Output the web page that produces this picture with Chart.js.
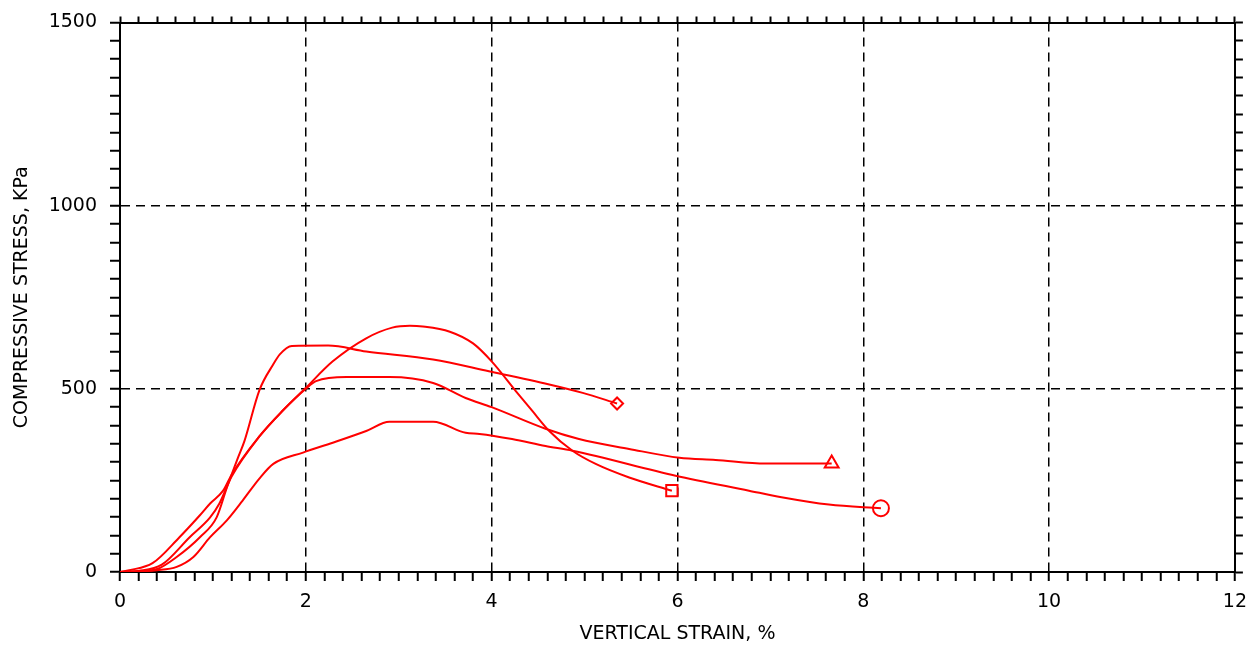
<!DOCTYPE html>
<html>
<head>
<meta charset="utf-8">
<script src="https://cdn.jsdelivr.net/npm/chart.js@4.4.1/dist/chart.umd.min.js"></script>
<style>
  body { margin: 0; background: #fff; }
  #wrap { width: 1259px; height: 645px; }
</style>
</head>
<body>
<div id="wrap"><canvas id="grafico"></canvas></div>
<script>
// ejes
const xTicks = [0, 2, 4, 6, 8, 10, 12];
const yTicks = [0, 500, 1000, 1500];

// curva con meseta ~620 (rombo)
const strainDiamond = [0, 0.2, 0.4, 0.61, 0.86, 1.04, 1.15, 1.27, 1.34, 1.5, 1.65, 1.72, 1.85, 2.24, 2.65, 3.37, 3.97, 4.62, 4.98, 5.35];
const stressDiamond = [0, 2, 8, 41, 95, 149, 230, 312, 358, 496, 567, 594, 617, 618, 602, 580, 548, 512, 489, 460];

// curva pico ~670 (cuadrado)
const strainSquare = [0, 0.1, 0.35, 0.64, 0.86, 0.97, 1.11, 1.2, 1.5, 1.75, 1.99, 2.29, 2.65, 2.93, 3.12, 3.26, 3.55, 3.8, 4.0, 4.26, 4.44, 4.62, 4.87, 5.12, 5.48, 5.94];
const stressSquare = [0, 5, 24, 95, 155, 187, 222, 265, 370, 440, 500, 575, 638, 667, 672, 670, 656, 624, 575, 494, 439, 385, 331, 295, 258, 222];

// curva meseta ~530 (triangulo)
const strainTriangle = [0, 0.2, 0.45, 0.75, 0.97, 1.07, 1.2, 1.5, 1.75, 2.0, 2.11, 2.44, 2.9, 3.37, 3.72, 4.0, 4.58, 4.94, 5.48, 6.02, 6.41, 6.95, 7.66];
const stressTriangle = [0, 3, 20, 95, 149, 187, 260, 370, 440, 500, 521, 532, 532, 516, 475, 450, 391, 363, 336, 312, 306, 296, 296];

// curva meseta ~410 (circulo)
const strainCircle = [0, 0.4, 0.61, 0.79, 0.97, 1.15, 1.32, 1.5, 1.65, 1.97, 2.29, 2.65, 2.9, 3.37, 3.72, 3.87, 4.22, 4.58, 4.87, 5.98, 6.77, 7.12, 7.63, 8.19];
const stressCircle = [0, 5, 14, 41, 95, 141, 195, 255, 295, 326, 353, 385, 410, 410, 380, 377, 363, 344, 331, 263, 222, 204, 184, 174];

const rojo = "#ff0000";

function armarPuntos(xs, ys) {
    let puntos = [];
    for (let i = 0; i < xs.length; i++) {
        puntos.push({ x: xs[i], y: ys[i] });
    }
    return puntos;
}

function serie(xs, ys, estilo, radio) {
    return {
        data: armarPuntos(xs, ys),
        borderColor: rojo,
        borderWidth: 2,
        showLine: true,
        cubicInterpolationMode: 'monotone',
        pointStyle: estilo,
        pointBorderColor: rojo,
        pointBorderWidth: 2,
        pointBackgroundColor: 'rgba(0,0,0,0)',
        pointRadius: (ctx) => ctx.dataIndex === xs.length - 1 ? radio : 0,
        pointHoverRadius: 0
    };
}

function esMayor(v, paso) {
    return Math.abs(v / paso - Math.round(v / paso)) < 1e-6;
}

const fuente = { family: "'DejaVu Sans', sans-serif", size: 19 };
const fuenteTicks = { family: "'DejaVu Sans', sans-serif", size: 19, lineHeight: 1 };

const ctx = document.getElementById('grafico');
new Chart(ctx, {
    type: 'scatter',
    data: {
        datasets: [
            serie(strainDiamond, stressDiamond, 'rectRot', 6),
            serie(strainSquare, stressSquare, 'rect', 8),
            serie(strainTriangle, stressTriangle, 'triangle', 8),
            serie(strainCircle, stressCircle, 'circle', 8)
        ]
    },
    options: {
        responsive: true,
        maintainAspectRatio: false,
        animation: false,
        layout: { padding: 0 },
        plugins: {
            legend: { display: false },
            tooltip: { enabled: false }
        },
        scales: {
            x: {
                type: 'linear',
                position: 'bottom',
                min: xTicks[0],
                max: xTicks[xTicks.length - 1],
                afterFit: (s) => { s.height = 73; },
                ticks: {
                    stepSize: 0.2,
                    autoSkip: false,
                    maxRotation: 0,
                    maxTicksLimit: 200,
                    padding: 12,
                    color: '#000',
                    font: fuenteTicks,
                    callback: (v) => xTicks.some(t => Math.abs(t - v) < 1e-6) ? String(Math.round(v)) : ''
                },
                grid: {
                    color: (c) => (c.tick && esMayor(c.tick.value, 2) && c.tick.value > 0 && c.tick.value < 12) ? '#000' : 'rgba(0,0,0,0)',
                    lineWidth: 1.5,
                    tickColor: '#000',
                    tickLength: 9,
                    tickWidth: 2
                },
                border: { display: true, color: '#000', width: 2, dash: [9, 6] },
                title: {
                    display: true,
                    text: 'VERTICAL STRAIN, %',
                    color: '#000',
                    font: fuente,
                    padding: { top: 3, bottom: 0 }
                }
            },
            x2: {
                type: 'linear',
                position: 'top',
                min: xTicks[0],
                max: xTicks[xTicks.length - 1],
                afterFit: (s) => { s.height = 20; },
                ticks: {
                    stepSize: 0.2,
                    autoSkip: false,
                    maxTicksLimit: 200,
                    callback: () => ''
                },
                grid: {
                    drawOnChartArea: false,
                    tickColor: '#000',
                    tickLength: 6,
                    tickWidth: 2
                },
                border: { display: true, color: '#000', width: 2 }
            },
            y: {
                type: 'linear',
                position: 'left',
                min: yTicks[0],
                max: yTicks[yTicks.length - 1],
                afterFit: (s) => { s.width = 120; },
                ticks: {
                    stepSize: 50,
                    autoSkip: false,
                    maxTicksLimit: 200,
                    padding: 13,
                    color: '#000',
                    font: fuenteTicks,
                    callback: (v) => yTicks.includes(Math.round(v)) && esMayor(v, 500) ? String(Math.round(v)) : ''
                },
                grid: {
                    color: (c) => (c.tick && esMayor(c.tick.value, 500) && c.tick.value > 0 && c.tick.value < 1500) ? '#000' : 'rgba(0,0,0,0)',
                    lineWidth: 1.5,
                    tickColor: '#000',
                    tickLength: 10,
                    tickWidth: 2
                },
                border: { display: true, color: '#000', width: 2, dash: [9, 6] },
                title: {
                    display: true,
                    text: 'COMPRESSIVE STRESS, KPa',
                    color: '#000',
                    font: fuente,
                    padding: { top: 11, bottom: 0 }
                }
            },
            y2: {
                type: 'linear',
                position: 'right',
                min: yTicks[0],
                max: yTicks[yTicks.length - 1],
                afterFit: (s) => { s.width = 22; },
                ticks: {
                    stepSize: 50,
                    autoSkip: false,
                    maxTicksLimit: 200,
                    callback: () => ''
                },
                grid: {
                    drawOnChartArea: false,
                    tickColor: '#000',
                    tickLength: 8,
                    tickWidth: 2
                },
                border: { display: true, color: '#000', width: 2 }
            }
        }
    }
});
</script>
</body>
</html>
